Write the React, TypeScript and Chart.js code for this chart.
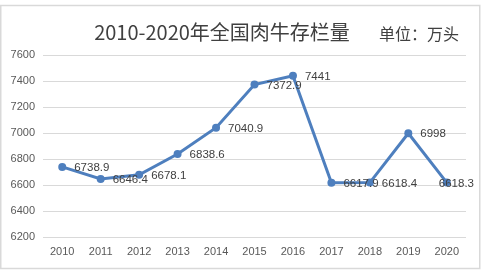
import React, { useEffect, useRef } from "react";
import { Chart, registerables } from "chart.js";

Chart.register(...registerables);

const years = ["2010", "2011", "2012", "2013", "2014", "2015", "2016", "2017", "2018", "2019", "2020"];
const stock = [6738.9, 6646.4, 6678.1, 6838.6, 7040.9, 7372.9, 7441, 6617.9, 6618.4, 6998, 6618.3];
const yTicks = [6200, 6400, 6600, 6800, 7000, 7200, 7400, 7600];
const titleText = "2010-2020年全国肉牛存栏量";
const unitText = "单位：万头";

const LINE_COLOR = "#4e7fbe";
const TEXT_COLOR = "#404040";
const AXIS_COLOR = "#595959";
const GRID_COLOR = "#d9d9d9";

const decorPlugin = {
  id: "decor",
  beforeDraw(chart: any) {
    const ctx = chart.ctx;
    ctx.save();
    ctx.fillStyle = "#ffffff";
    ctx.fillRect(0, 0, chart.width, chart.height);
    ctx.restore();
  },
  afterDraw(chart: any) {
    const ctx = chart.ctx;
    ctx.save();
    // frame
    ctx.strokeStyle = GRID_COLOR;
    ctx.lineWidth = 1.5;
    ctx.strokeRect(0.75, 5.5, 479, 263);
    // title
    ctx.fillStyle = TEXT_COLOR;
    ctx.textBaseline = "middle";
    ctx.textAlign = "center";
    ctx.font = '20px "Noto Sans CJK SC", "Noto Sans", sans-serif';
    ctx.fillText(titleText, 222, 32);
    ctx.font = '16px "Noto Sans CJK SC", "Noto Sans", sans-serif';
    ctx.fillText(unitText, 419, 34);
    // data labels
    const meta = chart.getDatasetMeta(0);
    ctx.font = '11.5px "Liberation Sans", Arial, sans-serif';
    ctx.textAlign = "left";
    meta.data.forEach((pt: any, i: number) => {
      const label = String(stock[i]);
      const w = ctx.measureText(label).width;
      let x = pt.x + 12;
      if (x + w > 474) x = 474 - w;
      ctx.fillText(label, x, pt.y + 1);
    });
    ctx.restore();
  },
};

export default function App() {
  const ref = useRef<HTMLCanvasElement | null>(null);
  useEffect(() => {
    document.body.style.margin = "0";
    const canvas = ref.current!;
    const chart = new Chart(canvas, {
      type: "line",
      data: {
        labels: years,
        datasets: [
          {
            data: stock,
            borderColor: LINE_COLOR,
            backgroundColor: LINE_COLOR,
            borderWidth: 3,
            pointRadius: 4,
            pointBackgroundColor: LINE_COLOR,
            pointBorderColor: LINE_COLOR,
            pointBorderWidth: 0,
            tension: 0,
          },
        ],
      },
      options: {
        animation: false,
        responsive: false,
        devicePixelRatio: 1,
        layout: { padding: { top: 55, right: 16, left: 0, bottom: 0 } },
        plugins: {
          legend: { display: false },
          title: { display: false },
          tooltip: { enabled: false },
        },
        scales: {
          x: {
            type: "category",
            offset: true,
            grid: { display: false, drawTicks: false },
            border: { display: false },
            ticks: {
              color: AXIS_COLOR,
              font: { family: '"Liberation Sans", Arial, sans-serif', size: 11 },
              padding: 8,
              maxRotation: 0,
            },
            afterFit(scale: any) {
              scale.height = 33;
            },
          },
          y: {
            min: 6200,
            max: 7600,
            afterBuildTicks(scale: any) {
              scale.ticks = yTicks.map((v) => ({ value: v }));
            },
            grid: { color: GRID_COLOR, lineWidth: 1, drawTicks: false },
            border: { display: false },
            ticks: {
              color: AXIS_COLOR,
              font: { family: '"Liberation Sans", Arial, sans-serif', size: 11 },
              padding: 8,
              callback: (v: any) => String(v),
            },
            afterFit(scale: any) {
              scale.width = 43;
            },
          },
        },
      },
      plugins: [decorPlugin],
    });
    return () => chart.destroy();
  }, []);
  return (
    <div style={{ position: "absolute", left: 0, top: 0, width: 482, height: 270 }}>
      <canvas ref={ref} width={482} height={270} style={{ width: 482, height: 270, display: "block" }} />
    </div>
  );
}
